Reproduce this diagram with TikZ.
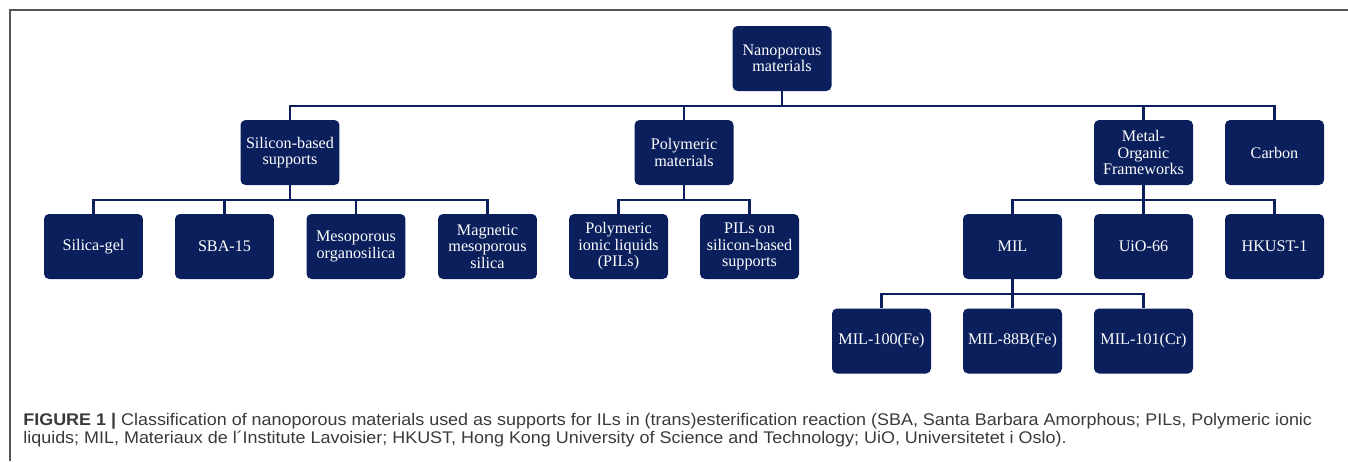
\documentclass[tikz,border=0pt]{standalone}
\usepackage{fontspec}
\setmainfont{Liberation Serif}
\newfontfamily\capsans{Liberation Sans}
\definecolor{navy}{HTML}{0A1F5C}
\definecolor{framegray}{HTML}{555555}
\definecolor{capgray}{HTML}{3A3A3A}
\newcommand{\boxfont}{\fontsize{9.2pt}{9.4pt}\selectfont}
\newcommand{\capfont}{\capsans\fontsize{9.6pt}{10pt}\selectfont}
\newcommand{\capline}[1]{\scalebox{1.064}[1]{#1}}
\begin{document}
\begin{tikzpicture}[x=0.02cm,y=-0.02cm,
    box/.style={fill=navy, rounded corners=0.1cm, text=white,
        minimum width=1.98cm, minimum height=1.3cm, align=center,
        inner sep=1pt, font=\boxfont},
    link/.style={navy, line width=1.25pt}]%{{{
\useasboundingbox (0,0) rectangle (1348,461);
%
% Cadre
\draw [framegray, line width=1.1pt] (10,461) -- (10,10) -- (1348,10);
%
% Racine
\node [box] (nano) at (782,58.5) {Nanoporous\\materials};
%
% Familles
\node [box] (silicon) at (290,152.5)  {Silicon-based\\supports};
\node [box] (polym)   at (684,152.5)  {Polymeric\\materials};
\node [box] (mof)     at (1143.5,152.5) {Metal-\\Organic\\Frameworks};
\node [box] (carbon)  at (1274.5,152.5) {Carbon};
%
% Supports
\node [box] (silgel) at (93.5,246.5)  {Silica-gel};
\node [box] (sba)    at (224.5,246.5) {SBA-15};
\node [box] (meso)   at (356,246.5)   {Mesoporous\\organosilica};
\node [box] (magn)   at (487.5,246.5) {Magnetic\\mesoporous\\silica};
\node [box] (pil)    at (618.5,246.5) {Polymeric\\ionic liquids\\(PILs)};
\node [box] (pilsi)  at (749.5,246.5) {PILs on\\silicon-based\\supports};
\node [box] (mil)    at (1012.5,246.5) {MIL};
\node [box] (uio)    at (1143.5,246.5) {UiO-66};
\node [box] (hkust)  at (1274.5,246.5) {HKUST-1};
%
% MIL
\node [box] (milA) at (881.5,341)  {MIL-100(Fe)};
\node [box] (milB) at (1012.5,341) {MIL-88B(Fe)};
\node [box] (milC) at (1143.5,341) {MIL-101(Cr)};
%
% Liens
\foreach \c in {silicon,polym,mof,carbon}
    \draw [link] (nano.south) -- ++(0,15) -| (\c.north);
\foreach \c in {silgel,sba,meso,magn}
    \draw [link] (silicon.south) -- ++(0,15) -| (\c.north);
\foreach \c in {pil,pilsi}
    \draw [link] (polym.south) -- ++(0,15) -| (\c.north);
\foreach \c in {mil,uio,hkust}
    \draw [link] (mof.south) -- ++(0,15) -| (\c.north);
\foreach \c in {milA,milB,milC}
    \draw [link] (mil.south) -- ++(0,15) -| (\c.north);
%
% Legende
\node [anchor=base west, inner sep=0, text=capgray, font=\capfont] (capA) at (23,425)
    {\capline{\textbf{FIGURE 1 |} Classification of nanoporous materials used as supports for ILs in (trans)esterification reaction (SBA, Santa Barbara Amorphous; PILs, Polymeric ionic}};
\node [anchor=base west, inner sep=0, text=capgray, font=\capfont] (capB) at (23,443)
    {\capline{liquids; MIL, Materiaux de l´Institute Lavoisier; HKUST, Hong Kong University of Science and Technology; UiO, Universitetet i Oslo).}};
%
\end{tikzpicture}
\end{document}
